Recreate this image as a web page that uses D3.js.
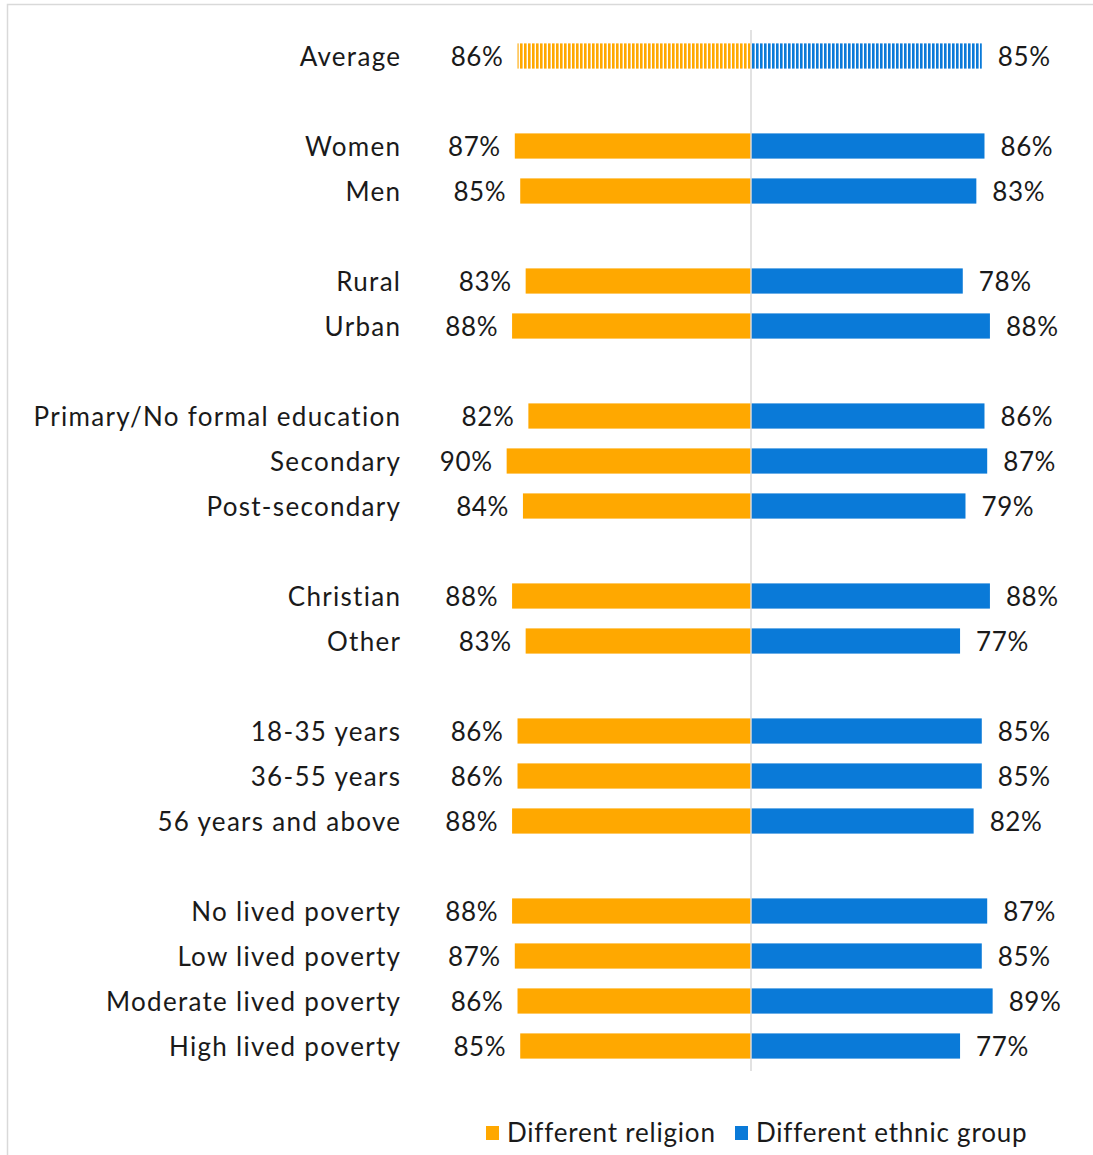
<!DOCTYPE html>
<html>
<head>
<meta charset="utf-8">
<script src="https://cdn.jsdelivr.net/npm/d3@7"></script>
<style>
  body { margin: 0; background: #fff; }
  svg text { font-family: Lato, "Open Sans", sans-serif; fill: #1a1a1a; }
</style>
</head>
<body>
<div id="container"></div>
<script>
// rows, with empty strings as spacer rows between groups
const categories = ["Average", "", "Women", "Men", "", "Rural", "Urban", "",
  "Primary/No formal education", "Secondary", "Post-secondary", "",
  "Christian", "Other", "", "18-35 years", "36-55 years", "56 years and above", "",
  "No lived poverty", "Low lived poverty", "Moderate lived poverty", "High lived poverty"];
const religion = [86, null, 87, 85, null, 83, 88, null, 82, 90, 84, null, 88, 83, null, 86, 86, 88, null, 88, 87, 86, 85];
const ethnic = [85, null, 86, 83, null, 78, 88, null, 86, 87, 79, null, 88, 77, null, 85, 85, 82, null, 87, 85, 89, 77];
const seriesNames = ["Different religion", "Different ethnic group"];
const colors = ["#FFA800", "#0A7AD8"];

const width = 1093, height = 1155;
const svg = d3.select('#container').append('svg')
  .attr('width', width)
  .attr('height', height);

// outer frame
svg.append('rect')
  .attr('x', 7.5).attr('y', 4.5)
  .attr('width', width + 10).attr('height', height + 10)
  .attr('fill', 'none').attr('stroke', '#d9d9d9').attr('stroke-width', 1.5);

const defs = svg.append('defs');
colors.forEach((c, i) => {
  const p = defs.append('pattern')
    .attr('id', 'stripe' + i)
    .attr('patternUnits', 'userSpaceOnUse')
    .attr('width', 4).attr('height', 4);
  p.append('rect').attr('width', 4).attr('height', 4).attr('fill', '#fff');
  p.append('rect').attr('width', 2.6).attr('height', 4).attr('fill', c);
});

const center = 751;
const x = d3.scaleLinear().domain([0, 100]).range([0, 271.5]);
const y = d3.scaleBand().domain(d3.range(categories.length)).range([33.5, 1068.5]).paddingInner(0.44).paddingOuter(0.22);

const rows = categories.map((c, i) => ({ i, c, r: religion[i], e: ethnic[i] })).filter(d => d.c !== "");

svg.selectAll('rect.rel')
  .data(rows)
  .enter().append('rect')
  .attr('class', 'rel')
  .attr('x', d => center - x(d.r))
  .attr('y', d => y(d.i))
  .attr('width', d => x(d.r))
  .attr('height', y.bandwidth())
  .attr('fill', d => d.i === 0 ? 'url(#stripe0)' : colors[0]);

svg.selectAll('rect.eth')
  .data(rows)
  .enter().append('rect')
  .attr('class', 'eth')
  .attr('x', center)
  .attr('y', d => y(d.i))
  .attr('width', d => x(d.e))
  .attr('height', y.bandwidth())
  .attr('fill', d => d.i === 0 ? 'url(#stripe1)' : colors[1]);

// center axis line
svg.append('line')
  .attr('x1', center).attr('x2', center)
  .attr('y1', 30).attr('y2', 1071)
  .attr('stroke', '#d9d9d9').attr('stroke-width', 1.5);

const fs = 26, ls = 1.3;
svg.selectAll('text.cat')
  .data(rows)
  .enter().append('text')
  .attr('class', 'cat')
  .attr('x', 400 + ls)
  .attr('y', d => y(d.i) + y.bandwidth() / 2 + 1)
  .attr('dy', '0.35em')
  .attr('text-anchor', 'end')
  .style('font-size', fs + 'px')
  .style('letter-spacing', ls + 'px')
  .text(d => d.c);

svg.selectAll('text.rv')
  .data(rows)
  .enter().append('text')
  .attr('class', 'rv')
  .attr('x', d => center - x(d.r) - 14)
  .attr('y', d => y(d.i) + y.bandwidth() / 2 + 1)
  .attr('dy', '0.35em')
  .attr('text-anchor', 'end')
  .style('font-size', fs + 'px')
  .style('letter-spacing', '0.6px')
  .text(d => d.r + '%');

svg.selectAll('text.ev')
  .data(rows)
  .enter().append('text')
  .attr('class', 'ev')
  .attr('x', d => center + x(d.e) + 16)
  .attr('y', d => y(d.i) + y.bandwidth() / 2 + 1)
  .attr('dy', '0.35em')
  .style('font-size', fs + 'px')
  .style('letter-spacing', '0.6px')
  .text(d => d.e + '%');

// legend
const legendX = [486, 735];
const legend = svg.append('g').attr('transform', 'translate(0, 1133)');
seriesNames.forEach((n, i) => {
  legend.append('rect')
    .attr('x', legendX[i]).attr('y', -7)
    .attr('width', 13).attr('height', 14)
    .attr('fill', colors[i]);
  legend.append('text')
    .attr('x', legendX[i] + 21)
    .attr('dy', '0.35em')
    .style('font-size', '26px')
    .style('letter-spacing', '0.8px')
    .text(n);
});
</script>
</body>
</html>
